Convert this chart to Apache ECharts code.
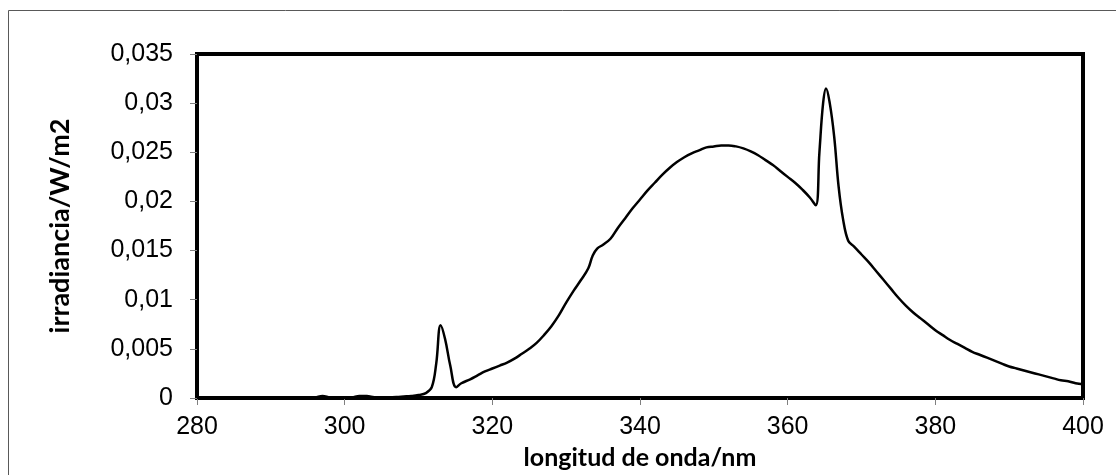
<!DOCTYPE html>
<html>
<head>
<meta charset="utf-8">
<script src="https://cdn.jsdelivr.net/npm/echarts@6/dist/echarts.min.js"></script>
<style>html,body{margin:0;padding:0;background:#fff;}#c{width:1116px;height:475px;}</style>
</head>
<body>
<div id="c"></div>
<script>
const wavelength = [280,285,290,295,296,297,298,299,300,301,302,303,304,305,306,307,308,309,310,311,311.8,312.4,313,313.6,314.3,315.1,315.8,317,318,319,320,321,322,323,324,325,326,327,328,329,330,331,332,333,333.6,334.2,335,336,337,338,339,340,341,342,343,344,345,346,347,348,349,350,351,352,353,354,355,356,357,358,359,360,361,362,363,363.8,364.3,364.8,365.2,365.7,366.3,366.9,367.5,368.2,369,370,371,372,373,374,375,376,377,378,379,380,381,382,383,384,385,386,387,388,389,390,391,392,393,394,395,396,397,398,399,400];
const irradiance = [0,0,0,0,0.00005,0.0002,0.00005,0,0,0.00005,0.0002,0.0002,0.00008,0.00005,0.00008,0.0001,0.00015,0.0002,0.0003,0.0005,0.0011,0.0035,0.0074,0.0060,0.0033,0.0011,0.0015,0.0019,0.0023,0.0027,0.0030,0.0033,0.0036,0.0040,0.0045,0.0050,0.0056,0.0064,0.0073,0.0084,0.0097,0.0109,0.0120,0.0132,0.0145,0.0152,0.0156,0.0162,0.0173,0.0183,0.0193,0.0202,0.0211,0.0219,0.0227,0.0234,0.0240,0.0245,0.0249,0.0252,0.0255,0.0256,0.0257,0.0257,0.0256,0.0254,0.0251,0.0247,0.0242,0.0237,0.0231,0.0225,0.0219,0.0212,0.0204,0.0196,0.0250,0.0300,0.0315,0.0300,0.0266,0.0215,0.0182,0.0160,0.0154,0.0146,0.0138,0.0129,0.0120,0.0111,0.0102,0.0094,0.0087,0.0081,0.0075,0.0069,0.0064,0.0059,0.0055,0.0051,0.0047,0.0044,0.0041,0.0038,0.0035,0.0032,0.0030,0.0028,0.0026,0.0024,0.0022,0.0020,0.0018,0.0017,0.0015,0.0014,0.00125];
const xTicks = {min:280, max:400, step:20};
const yTicks = {min:0, max:0.035, step:0.005};
const xTitle = 'longitud de onda/nm';
const yTitle = 'irradiancia/W/m2';

const points = wavelength.map((w,i)=>[w, irradiance[i]]);
const chart = echarts.init(document.getElementById('c'), null, {renderer:'canvas'});
const fmt = v => String(+(+v).toFixed(3)).replace('.', ',');
chart.setOption({
  animation:false,
  backgroundColor:'#fff',
  graphic:[{type:'rect', shape:{x:8.5,y:10.5,width:1200,height:600}, style:{fill:'none', stroke:'#595959', lineWidth:1}, silent:true, z:-1}],
  grid:{left:197, right:33, top:54, bottom:75, show:true, borderColor:'#000', borderWidth:4, backgroundColor:'#fff'},
  xAxis:{type:'value', min:xTicks.min, max:xTicks.max, interval:xTicks.step,
    name:xTitle, nameLocation:'middle', nameGap:47,
    nameTextStyle:{fontFamily:'Lato', fontWeight:'bold', fontSize:25, color:'#000'},
    axisLine:{show:true, lineStyle:{color:'#000', width:4}},
    axisTick:{show:true, length:7, lineStyle:{color:'#808080', width:1}},
    axisLabel:{fontFamily:'Liberation Sans', fontSize:25, color:'#000', margin:17},
    splitLine:{show:false}},
  yAxis:{type:'value', min:yTicks.min, max:yTicks.max, interval:yTicks.step,
    name:yTitle, nameLocation:'middle', nameGap:123, nameRotate:90,
    nameTextStyle:{fontFamily:'Lato', fontWeight:'bold', fontSize:27, color:'#000'},
    axisLine:{show:true, lineStyle:{color:'#000', width:4}},
    axisTick:{show:true, length:7, lineStyle:{color:'#808080', width:1}},
    axisLabel:{fontFamily:'Liberation Sans', fontSize:25, color:'#000', margin:24, formatter:fmt},
    splitLine:{show:false}},
  series:[{type:'line', data:points, showSymbol:false, smooth:0.4,
    lineStyle:{color:'#000', width:2.5}, clip:true}]
});
</script>
</body>
</html>
